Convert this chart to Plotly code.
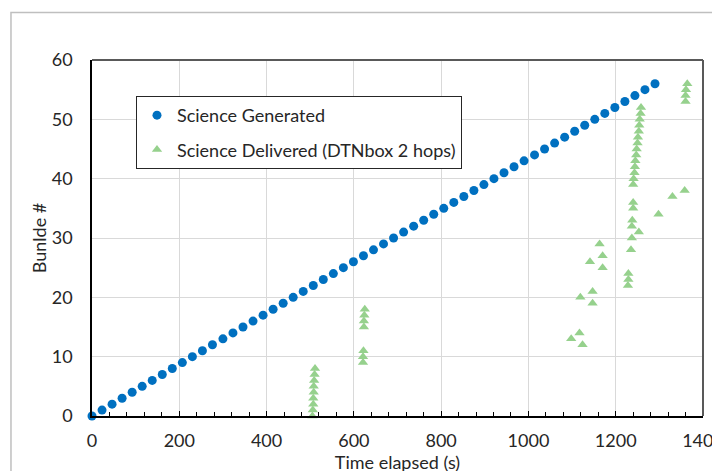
import plotly.graph_objects as go

# Science Generated: bundle number vs time (s)
gen_time = [0, 23, 46, 69, 92, 115, 138, 161, 184, 207, 230, 253, 276, 300, 323,
            346, 369, 392, 415, 438, 461, 484, 507, 530, 553, 576, 599, 622, 645,
            668, 691, 714, 737, 760, 783, 806, 829, 852, 875, 898, 921, 944, 967,
            990, 1014, 1037, 1060, 1083, 1106, 1129, 1152, 1175, 1198, 1221, 1244,
            1267, 1290]
gen_bundle = list(range(57))

# Science Delivered (DTNbox 2 hops)
del_bundle = list(range(57))
del_time = [505, 506, 507, 507, 508, 508, 509, 510, 511,
            621, 621, 622,
            1124, 1098, 1117,
            623, 623, 624, 625,
            1147, 1119, 1147,
            1228, 1229, 1229,
            1170, 1141, 1170,
            1235, 1163, 1237, 1253, 1237, 1238, 1298, 1240, 1240, 1330, 1358,
            1240, 1241, 1243, 1244, 1245, 1247, 1248, 1250, 1251, 1253, 1254,
            1255, 1257, 1258,
            1360, 1360, 1361, 1364]

FONT = "Lato"
TXT = "#262626"

fig = go.Figure()
fig.add_trace(go.Scatter(
    x=gen_time, y=gen_bundle, mode="markers", name="Science Generated",
    marker=dict(symbol="circle", size=9, color="#0070C0"),
    cliponaxis=False, legendgroup="a"))
fig.add_trace(go.Scatter(
    x=del_time, y=del_bundle, mode="markers", name="Science Delivered (DTNbox 2 hops)",
    marker=dict(symbol="triangle-up", size=9, color="#96D18D"),
    cliponaxis=False, legendgroup="b"))

fig.update_layout(
    width=720, height=471,
    margin=dict(l=84, r=25, t=52, b=63, autoexpand=False),
    paper_bgcolor="white", plot_bgcolor="white",
    font=dict(family=FONT, size=18, color=TXT),
    showlegend=True,
    legend=dict(x=0.072, y=0.899, xanchor="left", yanchor="top",
                bgcolor="white", bordercolor="#262626", borderwidth=1,
                font=dict(family=FONT, size=18, color=TXT),
                tracegroupgap=8, traceorder="grouped"),
    xaxis=dict(range=[0, 1400], dtick=200, tick0=0, automargin=False,
               showgrid=True, gridcolor="#D9D9D9", gridwidth=1,
               showline=True, linecolor="black", linewidth=1.5,
               ticks="inside", ticklen=5, tickcolor="black",
               minor=dict(dtick=40, ticks="inside", ticklen=4, tickcolor="black", showgrid=False),
               zeroline=False, ticklabelstandoff=8, ticklabeloverflow="allow",
               title=dict(text="Time elapsed (s)", standoff=2,
                          font=dict(family=FONT, size=18, color=TXT))),
    yaxis=dict(range=[0, 60], dtick=10, tick0=0, automargin=False,
               showgrid=True, gridcolor="#D9D9D9", gridwidth=1,
               showline=True, linecolor="black", linewidth=1.5,
               ticks="", zeroline=False, ticklabelstandoff=14,
               title=dict(text="Bunlde #", standoff=0,
                          font=dict(family=FONT, size=18, color=TXT))),
)

# plot-area border (top and right) and outer chart border
fig.add_shape(type="line", xref="paper", yref="paper", x0=0, x1=1, y0=1, y1=1,
              line=dict(color="#595959", width=2), layer="above")
fig.add_shape(type="line", xref="paper", yref="paper", x0=1, x1=1, y0=0, y1=1,
              line=dict(color="#595959", width=2), layer="above")
fig.add_shape(type="rect", xref="paper", yref="paper",
              x0=-0.1326, x1=1.2, y0=-0.3, y1=1.1336,
              line=dict(color="#BFBFBF", width=1.5), layer="below")

fig.write_html("out.html")
